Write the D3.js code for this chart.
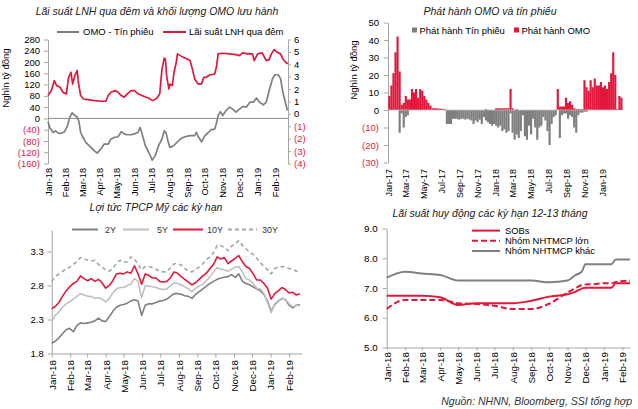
<!DOCTYPE html>
<html><head><meta charset="utf-8">
<script src="https://cdn.jsdelivr.net/npm/d3@7"></script>
<style>body{margin:0;background:#fff}svg{display:block}text{font-family:"Liberation Sans",Arial,sans-serif}</style>
</head><body><svg id="c" width="638" height="409"></svg>
<script>
// ---------- Panel 1: overnight interbank rate (%) and OMO/bills outstanding (nghìn tỷ) ----------
const lnhDates = ["2018-01-01","2018-01-07","2018-01-12","2018-01-16","2018-01-22","2018-01-27","2018-02-02","2018-02-06","2018-02-10","2018-02-13","2018-02-17","2018-02-21","2018-02-23","2018-02-27","2018-03-04","2018-03-11","2018-03-23","2018-04-03","2018-04-12","2018-04-16","2018-04-21","2018-04-28","2018-05-03","2018-05-09","2018-05-14","2018-05-19","2018-05-26","2018-06-01","2018-06-08","2018-06-17","2018-06-26","2018-07-03","2018-07-10","2018-07-15","2018-07-19","2018-07-23","2018-07-25","2018-07-27","2018-07-31","2018-08-02","2018-08-06","2018-08-09","2018-08-13","2018-08-15","2018-08-20","2018-08-25","2018-09-01","2018-09-06","2018-09-10","2018-09-14","2018-09-20","2018-09-26","2018-09-30","2018-10-04","2018-10-10","2018-10-19","2018-10-22","2018-10-25","2018-11-02","2018-11-14","2018-11-25","2018-12-01","2018-12-07","2018-12-15","2018-12-24","2018-12-27","2019-01-02","2019-01-10","2019-01-17","2019-01-22","2019-01-26","2019-01-31","2019-02-05","2019-02-11","2019-02-15","2019-02-20","2019-02-24"];
const lnhRate = [1.48,1.88,2.69,2.28,2.15,1.75,1.6,2.95,3.36,2.4,3.1,3.5,2.55,1.48,1.2,1.15,1.07,1.02,1.02,1.48,1.75,1.88,1.75,1.48,1.34,1.6,1.88,1.88,1.6,1.42,1.26,1.07,1.26,1.6,3.63,4.49,4.43,3.1,2.01,2.4,2.28,3.36,4.16,4.84,4.7,4.57,4.43,4.3,3.63,2.82,2.42,2.42,2.95,2.95,3.14,3.22,3.76,4.84,4.89,4.84,4.78,4.7,4.92,4.84,4.84,4.3,4.84,4.92,4.3,4.38,4.84,5.19,4.97,4.84,4.43,4.16,4.03];
const omoDates = ["2018-01-01","2018-01-04","2018-01-10","2018-01-14","2018-01-19","2018-01-24","2018-01-30","2018-02-04","2018-02-08","2018-02-12","2018-02-16","2018-02-21","2018-02-24","2018-02-27","2018-03-03","2018-03-08","2018-03-17","2018-03-23","2018-03-28","2018-04-03","2018-04-09","2018-04-16","2018-04-21","2018-04-28","2018-05-03","2018-05-09","2018-05-14","2018-05-19","2018-05-26","2018-06-01","2018-06-07","2018-06-11","2018-06-15","2018-06-20","2018-06-26","2018-07-02","2018-07-07","2018-07-13","2018-07-19","2018-07-23","2018-07-26","2018-07-30","2018-08-02","2018-08-08","2018-08-14","2018-08-20","2018-08-28","2018-09-06","2018-09-14","2018-09-17","2018-09-21","2018-09-26","2018-10-02","2018-10-08","2018-10-13","2018-10-19","2018-10-22","2018-10-25","2018-10-29","2018-11-02","2018-11-08","2018-11-14","2018-11-20","2018-11-25","2018-12-02","2018-12-07","2018-12-13","2018-12-20","2018-12-26","2018-12-31","2019-01-05","2019-01-12","2019-01-17","2019-01-23","2019-01-28","2019-02-01","2019-02-07","2019-02-11","2019-02-15","2019-02-20","2019-02-23"];
const omoBal = [-11,-32,-50,-44,-52,-53,-47,-26,4,20,12,4,-11,-50,-67,-85,-103,-115,-123,-109,-91,-91,-73,-67,-65,-47,-55,-58,-58,-55,-50,-32,-61,-97,-121,-148,-133,-97,-73,-44,-50,-85,-103,-97,-85,-73,-65,-61,-61,-50,-67,-83,-61,-50,-40,-38,-18,10,24,10,28,40,32,22,34,43,40,58,58,72,58,48,58,105,141,155,155,141,93,52,28];
const p1LeftTicks = [-160,-120,-80,-40,0,40,80,120,160,200,240,280];
const p1RightTicks = [-4,-3,-2,-1,0,1,2,3,4,5,6];

// ---------- Panel 2: weekly OMO issuance (+) and bill issuance (-), from week of 2017-01-02 ----------
const issueWeekStart = "2017-01-02";
const omoIssue = [8,14,21,33,42,22,3,4,8,6, 6,12,10,12,7,12,11,8,6,4, 2.5,1,1,1,0.8,0.8,0.5,0.5,0,0, 0,0,0,0,0,0,0,0,0,0, 0,0,0,0,0,0,0,0.5,0,0, 0,0,1,1,1,1,1,1,1,12, 1,0,0.5,0,0,0,0,0,0,0, 0,0,0,0,0,0,0,0,0,0, 0,0,12,2,2,2,7,4,5,3, 1,0.5,0.5,0.5,0.5,17,13,11,17,13, 18,14,14,16,13,14,12,16,21,33, 20,0.5,8,7];
const billIssue = [0,0,0,0,0,-13,-2,-10,-4,-3, 0,0,0,0,0,0,0,0,0,0, 0,0,0,0,0,0,0,0,-8,-8, -8,-5,-5,-5,-5.5,-5,-5,-5.5,-5,-5.5, -6,-8,-6,-7,-5.5,-8,-4,-6,-7,-8, -9,-8,-9,-10,-9,-12,-11,-13,-12,-2, -13,-17,-14,-16,-12,-3,-15,-17,-9,-14, -5,-10,-17,-10,-9,-4,-6,-12,-20,-8, -4,-3,0,-16,-3,-2,-2,-5,-3,-4, -10,-13,-3,-1.5,-1.5,-1,-1,0,0,0, 0,0,0,0,0,0,0,0,0,0, 0,0,0,0];
const p2Ticks = [-30,-20,-10,0,10,20,30,40,50];

// ---------- Panel 3: US Treasury yields (%), sampled every 6 days from 2018-01-01 ----------
const ustStart = "2018-01-01", ustStepDays = 6;
const ust2Y = [1.95,1.98,2.03,2.09,2.15,2.17,2.12,2.21,2.25,2.24, 2.25,2.26,2.28,2.32,2.28,2.27,2.34,2.42,2.48,2.51, 2.52,2.54,2.57,2.59,2.57,2.36,2.51,2.53,2.53,2.55, 2.57,2.58,2.60,2.64,2.68,2.68,2.67,2.65,2.64,2.61, 2.67,2.71,2.75,2.79,2.83,2.86,2.89,2.91,2.92,2.93, 2.96,2.92,2.97,2.86,2.83,2.81,2.78,2.75,2.72,2.67, 2.57,2.42,2.52,2.57,2.61,2.59,2.51,2.47,2.51,2.52];
const ust5Y = [2.27,2.36,2.41,2.48,2.53,2.56,2.60,2.64,2.68,2.66, 2.64,2.64,2.61,2.62,2.60,2.56,2.61,2.69,2.75,2.77, 2.77,2.80,2.82,2.90,2.86,2.62,2.80,2.79,2.78,2.77, 2.75,2.74,2.75,2.79,2.84,2.83,2.81,2.78,2.75,2.71, 2.76,2.79,2.82,2.87,2.93,3.00,3.06,3.04,3.03,3.01, 3.04,3.07,3.08,3.00,2.90,2.88,2.83,2.76,2.75,2.68, 2.55,2.40,2.53,2.58,2.61,2.59,2.53,2.49,2.51,2.50];
const ust10Y = [2.46,2.49,2.55,2.64,2.72,2.78,2.83,2.86,2.94,2.90, 2.87,2.90,2.86,2.89,2.84,2.76,2.80,2.87,2.97,2.98, 2.97,3.00,2.98,3.09,2.97,2.82,2.97,2.95,2.91,2.91, 2.86,2.85,2.86,2.91,3.00,2.98,2.93,2.89,2.85,2.81, 2.84,2.89,2.94,2.98,3.05,3.11,3.22,3.19,3.21,3.12, 3.16,3.20,3.24,3.15,3.08,3.05,2.97,2.88,2.88,2.83, 2.76,2.60,2.68,2.72,2.77,2.74,2.69,2.70,2.66,2.68];
const ust30Y = [2.86,2.93,2.97,3.01,3.04,3.07,3.11,3.15,3.21,3.19, 3.17,3.16,3.17,3.11,3.07,3.03,3.01,3.05,3.13,3.17, 3.14,3.15,3.22,3.19,3.11,3.03,3.08,3.08,3.06,3.04, 3.01,3.00,3.00,3.06,3.12,3.12,3.10,3.05,3.01,3.00, 3.04,3.07,3.12,3.18,3.22,3.28,3.39,3.39,3.36,3.31, 3.38,3.41,3.46,3.39,3.34,3.29,3.26,3.20,3.14,3.08, 3.03,2.97,3.05,3.07,3.08,3.07,3.05,3.04,3.01,3.01];
const p3Ticks = [1.8,2.3,2.8,3.3];

// ---------- Panel 4: 12-13 month deposit rates (%) ----------
const depDates = ["2018-01-01","2018-02-01","2018-03-01","2018-04-01","2018-05-01","2018-06-01","2018-07-01","2018-08-01","2018-09-01","2018-10-01","2018-11-01","2018-11-15","2018-11-25","2018-12-01","2018-12-15","2019-01-01","2019-01-14","2019-01-21","2019-02-14"];
const depSOBs  = [6.74,6.74,6.74,6.69,6.43,6.49,6.49,6.49,6.57,6.71,6.79,6.88,6.98,7.01,7.01,7.01,7.01,7.16,7.16];
const depLarge = [6.30,6.60,6.60,6.60,6.49,6.46,6.40,6.29,6.29,6.47,6.85,7.00,7.10,7.12,7.13,7.16,7.16,7.20,7.25];
const depOther = [7.35,7.55,7.49,7.44,7.25,7.25,7.25,7.25,7.25,7.19,7.25,7.44,7.55,7.80,7.80,7.80,7.80,7.96,7.96];
const p4Ticks = [5,6,7,8,9];

// ---------- drawing ----------
const RED = "#e3173b", GRAY = "#7f7f7f", LGRAY = "#c0c0c0", DGRAY30 = "#a6a6a6", AX = "#a6a6a6", TXT = "#000";
const svg = d3.select("#c");
const parse = d3.timeParse("%Y-%m-%d");
const fmtMon = d3.timeFormat("%b-%y");
const paren = v => v < 0 ? "(" + (-v) + ")" : String(v);

function title(x, y, t) {
  svg.append("text").attr("x", x).attr("y", y).attr("text-anchor", "middle")
    .attr("font-size", 10.5).attr("font-style", "italic").attr("fill", "#1a1a1a").text(t);
}
function styleAxis(g, fs, keepDomain) {
  if (keepDomain) g.select(".domain").attr("stroke", AX); else g.select(".domain").remove();
  g.selectAll(".tick line").attr("stroke", AX);
  g.selectAll(".tick text").attr("font-size", fs).attr("fill", TXT).attr("font-family", '"Liberation Sans",Arial,sans-serif');
}
function redNeg(g) { g.selectAll(".tick text").attr("fill", d => d < 0 ? RED : TXT); }
function rotLabels(g, pad) {
  g.selectAll(".tick text").attr("transform", "rotate(-90)").attr("text-anchor", "end")
    .attr("x", -pad).attr("y", 0).attr("dy", "0.35em");
}
function ytitle(x, y, t) {
  svg.append("text").attr("transform", `translate(${x},${y}) rotate(-90)`).attr("text-anchor", "middle")
    .attr("font-size", 9.5).attr("fill", TXT).text(t);
}

// ===== Panel 1 =====
{
  const x = d3.scaleTime().domain([parse("2018-01-01"), parse("2019-02-24")]).range([48, 288]);
  const yL = d3.scaleLinear().domain([-160, 280]).range([163.5, 39.5]);
  const yR = d3.scaleLinear().domain([-4, 6]).range([163.5, 39.5]);
  title(157, 15, "Lãi suất LNH qua đêm và khối lượng OMO lưu hành");
  ytitle(9, 78, "Nghìn tỷ đồng");
  const gl = svg.append("g").attr("transform", "translate(48,0)")
    .call(d3.axisLeft(yL).tickValues(p1LeftTicks).tickFormat(paren).tickSize(4).tickSizeOuter(0).tickPadding(4));
  styleAxis(gl, 9.5, true); redNeg(gl);
  const gr = svg.append("g").attr("transform", "translate(288,0)")
    .call(d3.axisRight(yR).tickValues(p1RightTicks).tickFormat(paren).tickSize(3).tickSizeOuter(0).tickPadding(3));
  styleAxis(gr, 9.5, true); redNeg(gr);
  svg.append("line").attr("x1", 48).attr("x2", 288).attr("y1", yL(0)).attr("y2", yL(0)).attr("stroke", "#8c8c8c");
  const gx = svg.append("g").attr("transform", "translate(0,163.5)")
    .call(d3.axisBottom(x).tickValues(d3.timeMonth.range(parse("2018-01-01"), parse("2019-02-02"))).tickFormat(fmtMon).tickSize(0));
  styleAxis(gx, 9.2, false); rotLabels(gx, 4.5);
  const omo = omoDates.map((d, i) => ({ d: parse(d), v: omoBal[i] }));
  const lnh = lnhDates.map((d, i) => ({ d: parse(d), v: lnhRate[i] }));
  svg.append("path").datum(omo).attr("fill", "none").attr("stroke", GRAY).attr("stroke-width", 1.7)
    .attr("stroke-linejoin", "round").attr("d", d3.line().x(p => x(p.d)).y(p => yL(p.v)));
  svg.append("path").datum(lnh).attr("fill", "none").attr("stroke", RED).attr("stroke-width", 1.7)
    .attr("stroke-linejoin", "round").attr("d", d3.line().x(p => x(p.d)).y(p => yR(p.v)));
  // legend
  svg.append("line").attr("x1", 57).attr("x2", 79).attr("y1", 32).attr("y2", 32).attr("stroke", GRAY).attr("stroke-width", 2);
  svg.append("text").attr("x", 83).attr("y", 35.3).attr("font-size", 9.5).text("OMO - Tín phiếu");
  svg.append("line").attr("x1", 163).attr("x2", 186).attr("y1", 32).attr("y2", 32).attr("stroke", RED).attr("stroke-width", 2);
  svg.append("text").attr("x", 189).attr("y", 35.3).attr("font-size", 9.5).text("Lãi suất LNH qua đêm");
}

// ===== Panel 2 =====
{
  const x = d3.scaleTime().domain([parse("2017-01-01"), parse("2019-03-01")]).range([388, 619.5]);
  const y = d3.scaleLinear().domain([-30, 50]).range([162.5, 22.5]);
  title(490, 15, "Phát hành OMO và tín phiếu");
  ytitle(357, 70, "Nghìn tỷ đồng");
  const gl = svg.append("g").attr("transform", "translate(388,0)")
    .call(d3.axisLeft(y).tickValues(p2Ticks).tickFormat(paren).tickSize(4).tickSizeOuter(0).tickPadding(5));
  styleAxis(gl, 9.5, true); redNeg(gl);
  const start = parse(issueWeekStart);
  const weeks = omoIssue.map((_, i) => d3.timeWeek.offset(start, i));
  const bw = x(d3.timeWeek.offset(start, 1)) - x(start);
  svg.append("g").selectAll("rect").data(weeks).join("rect")
    .attr("x", d => x(d)).attr("width", bw + 0.1)
    .attr("y", (d, i) => y(Math.max(0, billIssue[i]))).attr("height", (d, i) => Math.abs(y(billIssue[i]) - y(0)))
    .attr("fill", GRAY);
  svg.append("g").selectAll("rect").data(weeks).join("rect")
    .attr("x", d => x(d)).attr("width", bw + 0.1)
    .attr("y", (d, i) => y(omoIssue[i])).attr("height", (d, i) => y(0) - y(omoIssue[i]))
    .attr("fill", RED);
  svg.append("line").attr("x1", 388).attr("x2", 619).attr("y1", y(0)).attr("y2", y(0)).attr("stroke", "#bfbfbf").attr("stroke-width", 0.8);
  const gx = svg.append("g").attr("transform", "translate(0,162.5)")
    .call(d3.axisBottom(x).tickValues(d3.timeMonth.every(2).range(parse("2017-01-01"), parse("2019-02-01"))).tickFormat(fmtMon).tickSize(0));
  styleAxis(gx, 9, false); rotLabels(gx, 6.5);
  // legend
  svg.append("rect").attr("x", 412).attr("y", 27.5).attr("width", 5).attr("height", 5).attr("fill", GRAY);
  svg.append("text").attr("x", 419.5).attr("y", 33.5).attr("font-size", 9.5).text("Phát hành Tín phiếu");
  svg.append("rect").attr("x", 514).attr("y", 27.5).attr("width", 5).attr("height", 5).attr("fill", RED);
  svg.append("text").attr("x", 521.5).attr("y", 33.5).attr("font-size", 9.5).text("Phát hành OMO");
}

// ===== Panel 3 =====
{
  const x = d3.scaleTime().domain([parse("2018-01-01"), parse("2019-02-22")]).range([51.7, 301.7]);
  const y = d3.scaleLinear().domain([1.8, 3.62]).range([353.5, 229.7]);
  title(156, 210.5, "Lợi tức TPCP Mỹ các kỳ hạn");
  const gl = svg.append("g").attr("transform", "translate(51.7,0)")
    .call(d3.axisLeft(y).tickValues(p3Ticks).tickFormat(d3.format(".1f")).tickSize(4).tickSizeOuter(0).tickPadding(4));
  styleAxis(gl, 9.5, true);
  const gx = svg.append("g").attr("transform", "translate(0,353.5)")
    .call(d3.axisBottom(x).tickValues(d3.timeMonth.range(parse("2018-01-01"), parse("2019-02-02"))).tickFormat(fmtMon).tickSize(4).tickSizeOuter(0));
  styleAxis(gx, 9.8, true); rotLabels(gx, 6.5);
  const s = parse(ustStart);
  const dates = ust2Y.map((_, i) => d3.timeDay.offset(s, i * ustStepDays));
  const ln = d3.line().x((v, i) => x(dates[i])).y(v => y(v));
  const series = [
    { name: "2Y", v: ust2Y, c: GRAY, dash: null },
    { name: "5Y", v: ust5Y, c: LGRAY, dash: null },
    { name: "30Y", v: ust30Y, c: DGRAY30, dash: "4,3" },
    { name: "10Y", v: ust10Y, c: RED, dash: null }
  ];
  series.forEach(sr => svg.append("path").datum(sr.v).attr("fill", "none").attr("stroke", sr.c)
    .attr("stroke-width", 1.6).attr("stroke-dasharray", sr.dash).attr("stroke-linejoin", "round").attr("d", ln));
  // legend
  const leg = [
    { t: "2Y", c: GRAY, x1: 72, x2: 98, tx: 105, dash: null },
    { t: "5Y", c: LGRAY, x1: 123, x2: 149, tx: 157, dash: null },
    { t: "10Y", c: RED, x1: 173, x2: 203, tx: 207, dash: null },
    { t: "30Y", c: DGRAY30, x1: 228, x2: 257, tx: 262, dash: "4,3" }
  ];
  leg.forEach(l => {
    svg.append("line").attr("x1", l.x1).attr("x2", l.x2).attr("y1", 229.5).attr("y2", 229.5)
      .attr("stroke", l.c).attr("stroke-width", 2).attr("stroke-dasharray", l.dash);
    svg.append("text").attr("x", l.tx).attr("y", 232.8).attr("font-size", 9).attr("fill", "#333").text(l.t);
  });
}

// ===== Panel 4 =====
{
  const x = d3.scaleTime().domain([parse("2018-01-01"), parse("2019-02-14")]).range([386.7, 630]);
  const y = d3.scaleLinear().domain([5, 9]).range([347.5, 228.5]);
  title(490, 217, "Lãi suất huy động các kỳ hạn 12-13 tháng");
  const gl = svg.append("g").attr("transform", "translate(386.7,0)")
    .call(d3.axisLeft(y).tickValues(p4Ticks).tickFormat(d3.format(".1f")).tickSize(4).tickSizeOuter(0).tickPadding(5));
  styleAxis(gl, 9.8, true);
  const gx = svg.append("g").attr("transform", "translate(0,347.5)")
    .call(d3.axisBottom(x).tickValues(d3.timeMonth.range(parse("2018-01-01"), parse("2019-02-02"))).tickFormat(fmtMon).tickSize(3).tickSizeOuter(0));
  styleAxis(gx, 9.8, true); rotLabels(gx, 4.5);
  const dates = depDates.map(parse);
  const ln = d3.line().x((v, i) => x(dates[i])).y(v => y(v)).curve(d3.curveMonotoneX);
  svg.append("path").datum(depOther).attr("fill", "none").attr("stroke", GRAY).attr("stroke-width", 2).attr("d", ln);
  svg.append("path").datum(depSOBs).attr("fill", "none").attr("stroke", RED).attr("stroke-width", 2).attr("d", ln);
  svg.append("path").datum(depLarge).attr("fill", "none").attr("stroke", RED).attr("stroke-width", 2).attr("stroke-dasharray", "6,3").attr("d", ln);
  const leg = [
    { t: "SOBs", c: RED, y: 230.6, dash: null },
    { t: "Nhóm NHTMCP lớn", c: RED, y: 240.8, dash: "6,3" },
    { t: "Nhóm NHTMCP khác", c: GRAY, y: 251, dash: null }
  ];
  leg.forEach(l => {
    svg.append("line").attr("x1", 472).attr("x2", 500).attr("y1", l.y).attr("y2", l.y)
      .attr("stroke", l.c).attr("stroke-width", 2).attr("stroke-dasharray", l.dash);
    svg.append("text").attr("x", 505).attr("y", l.y + 3.3).attr("font-size", 9.4).text(l.t);
  });
}

// source
svg.append("text").attr("x", 632).attr("y", 405).attr("text-anchor", "end").attr("font-size", 10.5)
  .attr("font-style", "italic").attr("fill", "#333").text("Nguồn: NHNN, Bloomberg, SSI tổng hợp");
</script>
</body></html>
